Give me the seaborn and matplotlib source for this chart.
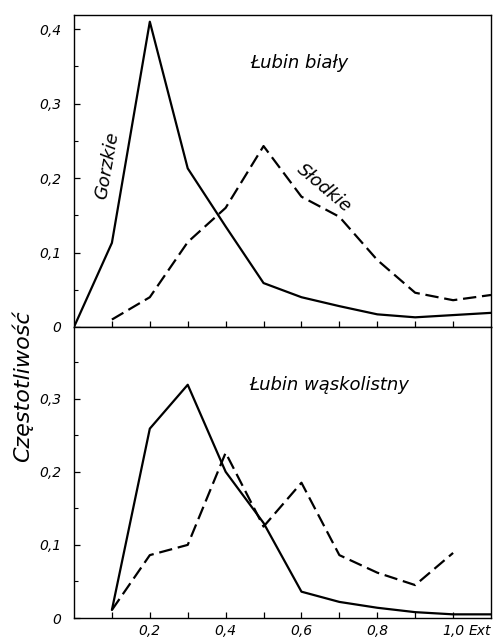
import matplotlib
matplotlib.use("Agg")
import matplotlib.pyplot as plt
import matplotlib.transforms as mtransforms
import numpy as np
import pandas as pd
import seaborn as sns

# ---- data ----
ext_bialy_g = [0.0, 0.1, 0.2, 0.3, 0.4, 0.5, 0.6, 0.7, 0.8, 0.9, 1.0, 1.1]
bialy_gorzkie = [0.0, 0.113, 0.41, 0.213, 0.135, 0.059, 0.040, 0.028, 0.017, 0.013, 0.016, 0.019]
ext_bialy_s = [0.1, 0.2, 0.3, 0.4, 0.5, 0.6, 0.7, 0.8, 0.9, 1.0, 1.1]
bialy_slodkie = [0.010, 0.040, 0.114, 0.160, 0.243, 0.175, 0.148, 0.090, 0.046, 0.036, 0.043]

ext_wask_g = [0.1, 0.2, 0.3, 0.4, 0.5, 0.6, 0.7, 0.8, 0.9, 1.0, 1.1]
wask_gorzkie = [0.011, 0.259, 0.319, 0.200, 0.130, 0.036, 0.022, 0.014, 0.008, 0.005, 0.005]
ext_wask_s = [0.1, 0.2, 0.3, 0.4, 0.5, 0.6, 0.7, 0.8, 0.9, 1.0]
wask_slodkie = [0.011, 0.086, 0.100, 0.226, 0.125, 0.185, 0.086, 0.062, 0.045, 0.089]

xtick_vals = [0.2, 0.4, 0.6, 0.8, 1.0]
xtick_labels = ["0,2", "0,4", "0,6", "0,8", "1,0"]
top_ytick_vals = [0.0, 0.1, 0.2, 0.3, 0.4]
top_ytick_labels = ["0", "0,1", "0,2", "0,3", "0,4"]
bot_ytick_vals = [0.0, 0.1, 0.2, 0.3]
bot_ytick_labels = ["0", "0,1", "0,2", "0,3"]

df_top = pd.concat([
    pd.DataFrame({"Ext": ext_bialy_g, "freq": bialy_gorzkie, "typ": "Gorzkie"}),
    pd.DataFrame({"Ext": ext_bialy_s, "freq": bialy_slodkie, "typ": "Słodkie"}),
])
df_bot = pd.concat([
    pd.DataFrame({"Ext": ext_wask_g, "freq": wask_gorzkie, "typ": "Gorzkie"}),
    pd.DataFrame({"Ext": ext_wask_s, "freq": wask_slodkie, "typ": "Słodkie"}),
])

sns.set_theme(style="white")
plt.rcParams["font.family"] = ["DejaVu Sans"]
plt.rcParams["font.style"] = "italic"
plt.rcParams["text.color"] = "black"
plt.rcParams["xtick.color"] = "black"
plt.rcParams["ytick.color"] = "black"

fig = plt.figure(figsize=(4.97, 6.43), dpi=100)
L, R = 74 / 497, 491 / 497
ax1 = fig.add_axes([L, 1 - 327 / 643, R - L, (327 - 15) / 643])
ax2 = fig.add_axes([L, 1 - 618 / 643, R - L, (618 - 327) / 643])

dash_map = {"Gorzkie": "", "Słodkie": (6, 2.6)}
xt = np.round(np.arange(0.1, 1.01, 0.1), 2)
for ax, df in ((ax1, df_top), (ax2, df_bot)):
    sns.lineplot(data=df, x="Ext", y="freq", style="typ", dashes=dash_map,
                 color="black", linewidth=1.6, legend=False, ax=ax,
                 estimator=None, sort=False)
    ax.set_xlim(0, 1.1)
    ax.set_xlabel("")
    ax.set_ylabel("")
    for s in ax.spines.values():
        s.set_color("black")
        s.set_linewidth(1.0)
    ax.tick_params(direction="in", length=4, width=0.9, colors="black",
                   labelsize=10)
    ax.tick_params(axis="y", pad=9)
    ax.set_xticks(xt)

ax1.set_ylim(0, 0.419)
ax2.set_ylim(0, 0.398)

ax1.set_xticklabels([])
ax2.set_xticklabels([xtick_labels[xtick_vals.index(v)] if v in xtick_vals else "" for v in xt])

ax1.set_yticks(top_ytick_vals)
ax1.set_yticklabels(top_ytick_labels)
ax1.set_yticks(np.arange(0.05, 0.41, 0.1), minor=True)
ax2.set_yticks(bot_ytick_vals)
ax2.set_yticklabels(bot_ytick_labels)
ax2.set_yticks(np.arange(0.05, 0.40, 0.1), minor=True)
for ax in (ax1, ax2):
    ax.tick_params(which="minor", direction="in", length=3, width=0.8, left=True)
    ax.tick_params(which="major", left=True, bottom=True)
ax2.tick_params(axis="x", pad=4)

# "Ext" after 1,0
trans = mtransforms.blended_transform_factory(ax2.transData, ax2.transAxes)
ax2.text(1.042, -0.019, "Ext", transform=trans, ha="left", va="top",
         fontsize=10, style="italic")

# annotations
ax1.text(0.595, 0.354, "Łubin biały", fontsize=13, style="italic", ha="center", va="center")
ax1.text(0.088, 0.217, "Gorzkie", fontsize=13, style="italic", rotation=80,
         ha="center", va="center")
ax1.text(0.66, 0.186, "Słodkie", fontsize=13, style="italic", rotation=-40,
         ha="center", va="center")
ax2.text(0.674, 0.319, "Łubin wąskolistny", fontsize=13, style="italic",
         ha="center", va="center")

fig.text(22 / 497, 1 - 386 / 643, "Częstotliwość", rotation=90, fontsize=16,
         style="italic", ha="center", va="center")

fig.savefig("out.png", dpi=100, facecolor="white")
